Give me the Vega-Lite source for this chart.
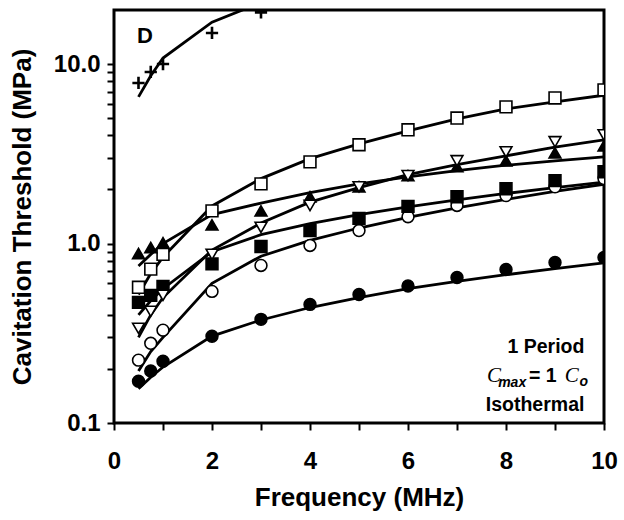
{
  "$schema": "https://vega.github.io/schema/vega-lite/v6.json",
  "autosize": "none",
  "padding": {"left": 114, "top": 10, "right": 20, "bottom": 97},
  "width": 490,
  "height": 413,
  "background": "white",
  "config": {
    "view": {"stroke": "black", "strokeWidth": 3},
    "font": "Liberation Sans"
  },
  "datasets": {
    "pts": [
      {"series": "fc", "f": 0.5, "v": 0.171}, {"series": "fc", "f": 0.75, "v": 0.195}, {"series": "fc", "f": 1, "v": 0.221}, {"series": "fc", "f": 2, "v": 0.304}, {"series": "fc", "f": 3, "v": 0.378}, {"series": "fc", "f": 4, "v": 0.458}, {"series": "fc", "f": 5, "v": 0.52}, {"series": "fc", "f": 6, "v": 0.58}, {"series": "fc", "f": 7, "v": 0.647}, {"series": "fc", "f": 8, "v": 0.717}, {"series": "fc", "f": 9, "v": 0.784}, {"series": "fc", "f": 10, "v": 0.836},
      {"series": "oc", "f": 0.5, "v": 0.224}, {"series": "oc", "f": 0.75, "v": 0.278}, {"series": "oc", "f": 1, "v": 0.329}, {"series": "oc", "f": 2, "v": 0.541}, {"series": "oc", "f": 3, "v": 0.755}, {"series": "oc", "f": 4, "v": 0.975}, {"series": "oc", "f": 5, "v": 1.18}, {"series": "oc", "f": 6, "v": 1.41}, {"series": "oc", "f": 7, "v": 1.63}, {"series": "oc", "f": 8, "v": 1.85}, {"series": "oc", "f": 9, "v": 2.07}, {"series": "oc", "f": 10, "v": 2.3},
      {"series": "fs", "f": 0.5, "v": 0.47}, {"series": "fs", "f": 0.75, "v": 0.514}, {"series": "fs", "f": 1, "v": 0.577}, {"series": "fs", "f": 2, "v": 0.77}, {"series": "fs", "f": 3, "v": 0.963}, {"series": "fs", "f": 4, "v": 1.18}, {"series": "fs", "f": 5, "v": 1.38}, {"series": "fs", "f": 6, "v": 1.61}, {"series": "fs", "f": 7, "v": 1.82}, {"series": "fs", "f": 8, "v": 2.02}, {"series": "fs", "f": 9, "v": 2.24}, {"series": "fs", "f": 10, "v": 2.51},
      {"series": "os", "f": 0.5, "v": 0.57}, {"series": "os", "f": 0.75, "v": 0.72}, {"series": "os", "f": 1, "v": 0.87}, {"series": "os", "f": 2, "v": 1.52}, {"series": "os", "f": 3, "v": 2.15}, {"series": "os", "f": 4, "v": 2.85}, {"series": "os", "f": 5, "v": 3.55}, {"series": "os", "f": 6, "v": 4.3}, {"series": "os", "f": 7, "v": 5.0}, {"series": "os", "f": 8, "v": 5.77}, {"series": "os", "f": 9, "v": 6.47}, {"series": "os", "f": 10, "v": 7.17},
      {"series": "ft", "f": 0.5, "v": 0.88}, {"series": "ft", "f": 0.75, "v": 0.95}, {"series": "ft", "f": 1, "v": 1.01}, {"series": "ft", "f": 2, "v": 1.27}, {"series": "ft", "f": 3, "v": 1.52}, {"series": "ft", "f": 4, "v": 1.82}, {"series": "ft", "f": 5, "v": 2.07}, {"series": "ft", "f": 6, "v": 2.39}, {"series": "ft", "f": 7, "v": 2.68}, {"series": "ft", "f": 8, "v": 2.89}, {"series": "ft", "f": 9, "v": 3.2}, {"series": "ft", "f": 10, "v": 3.5},
      {"series": "ot", "f": 0.5, "v": 0.337}, {"series": "ot", "f": 0.75, "v": 0.419}, {"series": "ot", "f": 1, "v": 0.514}, {"series": "ot", "f": 2, "v": 0.87}, {"series": "ot", "f": 3, "v": 1.23}, {"series": "ot", "f": 4, "v": 1.63}, {"series": "ot", "f": 5, "v": 2.07}, {"series": "ot", "f": 6, "v": 2.39}, {"series": "ot", "f": 7, "v": 2.89}, {"series": "ot", "f": 8, "v": 3.24}, {"series": "ot", "f": 9, "v": 3.69}, {"series": "ot", "f": 10, "v": 4.03},
      {"series": "pl", "f": 0.5, "v": 7.84}, {"series": "pl", "f": 0.75, "v": 9.03}, {"series": "pl", "f": 1, "v": 10.0}, {"series": "pl", "f": 2, "v": 14.9}, {"series": "pl", "f": 3, "v": 19.4}
    ],
    "fit": [
      {"series": "fc", "f": 0.5, "v": 0.155}, {"series": "fc", "f": 0.75, "v": 0.18}, {"series": "fc", "f": 1, "v": 0.205}, {"series": "fc", "f": 2, "v": 0.305}, {"series": "fc", "f": 3, "v": 0.375}, {"series": "fc", "f": 4, "v": 0.44}, {"series": "fc", "f": 5, "v": 0.5}, {"series": "fc", "f": 6, "v": 0.56}, {"series": "fc", "f": 7, "v": 0.615}, {"series": "fc", "f": 8, "v": 0.67}, {"series": "fc", "f": 9, "v": 0.725}, {"series": "fc", "f": 10, "v": 0.78},
      {"series": "oc", "f": 0.5, "v": 0.195}, {"series": "oc", "f": 0.75, "v": 0.25}, {"series": "oc", "f": 1, "v": 0.3}, {"series": "oc", "f": 2, "v": 0.6}, {"series": "oc", "f": 3, "v": 0.85}, {"series": "oc", "f": 4, "v": 1.04}, {"series": "oc", "f": 5, "v": 1.22}, {"series": "oc", "f": 6, "v": 1.4}, {"series": "oc", "f": 7, "v": 1.58}, {"series": "oc", "f": 8, "v": 1.76}, {"series": "oc", "f": 9, "v": 1.95}, {"series": "oc", "f": 10, "v": 2.14},
      {"series": "fs", "f": 0.5, "v": 0.4}, {"series": "fs", "f": 0.75, "v": 0.48}, {"series": "fs", "f": 1, "v": 0.56}, {"series": "fs", "f": 2, "v": 0.9}, {"series": "fs", "f": 3, "v": 1.12}, {"series": "fs", "f": 4, "v": 1.29}, {"series": "fs", "f": 5, "v": 1.45}, {"series": "fs", "f": 6, "v": 1.6}, {"series": "fs", "f": 7, "v": 1.75}, {"series": "fs", "f": 8, "v": 1.9}, {"series": "fs", "f": 9, "v": 2.05}, {"series": "fs", "f": 10, "v": 2.2},
      {"series": "os", "f": 0.5, "v": 0.52}, {"series": "os", "f": 0.75, "v": 0.68}, {"series": "os", "f": 1, "v": 0.84}, {"series": "os", "f": 2, "v": 1.62}, {"series": "os", "f": 3, "v": 2.3}, {"series": "os", "f": 4, "v": 2.97}, {"series": "os", "f": 5, "v": 3.59}, {"series": "os", "f": 6, "v": 4.24}, {"series": "os", "f": 7, "v": 4.95}, {"series": "os", "f": 8, "v": 5.62}, {"series": "os", "f": 9, "v": 6.15}, {"series": "os", "f": 10, "v": 6.7},
      {"series": "ft", "f": 0.5, "v": 0.75}, {"series": "ft", "f": 0.75, "v": 0.87}, {"series": "ft", "f": 1, "v": 1.0}, {"series": "ft", "f": 2, "v": 1.45}, {"series": "ft", "f": 3, "v": 1.68}, {"series": "ft", "f": 4, "v": 1.92}, {"series": "ft", "f": 5, "v": 2.15}, {"series": "ft", "f": 6, "v": 2.35}, {"series": "ft", "f": 7, "v": 2.55}, {"series": "ft", "f": 8, "v": 2.73}, {"series": "ft", "f": 9, "v": 2.89}, {"series": "ft", "f": 10, "v": 3.04},
      {"series": "ot", "f": 0.5, "v": 0.3}, {"series": "ot", "f": 0.75, "v": 0.4}, {"series": "ot", "f": 1, "v": 0.5}, {"series": "ot", "f": 2, "v": 0.92}, {"series": "ot", "f": 3, "v": 1.3}, {"series": "ot", "f": 4, "v": 1.7}, {"series": "ot", "f": 5, "v": 2.05}, {"series": "ot", "f": 6, "v": 2.42}, {"series": "ot", "f": 7, "v": 2.75}, {"series": "ot", "f": 8, "v": 3.08}, {"series": "ot", "f": 9, "v": 3.44}, {"series": "ot", "f": 10, "v": 3.78},
      {"series": "pl", "f": 0.5, "v": 6.56}, {"series": "pl", "f": 0.75, "v": 8.6}, {"series": "pl", "f": 1, "v": 10.8}, {"series": "pl", "f": 2, "v": 17.1}, {"series": "pl", "f": 3, "v": 22}
    ]
  },
  "encoding": {
    "x": {
      "field": "f", "type": "quantitative",
      "scale": {"domain": [0, 10], "nice": false, "zero": false},
      "axis": {
        "title": "Frequency (MHz)",
        "values": [0, 1, 2, 3, 4, 5, 6, 7, 8, 9, 10],
        "labelExpr": "datum.value % 2 == 0 ? datum.label : ''",
        "grid": false,
        "domain": false,
        "tickColor": "black", "tickWidth": 2, "tickSize": 7,
        "labelFont": "Liberation Sans", "labelFontWeight": "bold", "labelFontSize": 24, "labelColor": "black",
        "labelPadding": 19, "labelFlush": false,
        "titleFont": "Liberation Sans", "titleFontWeight": "bold", "titleFontSize": 26, "titleColor": "black",
        "titlePadding": 11
      }
    },
    "y": {
      "field": "v", "type": "quantitative",
      "scale": {"type": "log", "domain": [0.1, 20], "nice": false},
      "axis": {
        "title": "Cavitation Threshold (MPa)",
        "values": [0.1, 0.2, 0.3, 0.4, 0.5, 0.6, 0.7, 0.8, 0.9, 1, 2, 3, 4, 5, 6, 7, 8, 9, 10],
        "labelExpr": "(datum.value == 0.1 || datum.value == 1 || datum.value == 10) ? format(datum.value, '.1f') : ''",
        "grid": false,
        "domain": false,
        "tickColor": "black", "tickWidth": 2, "tickSize": 7,
        "labelFont": "Liberation Sans", "labelFontWeight": "bold", "labelFontSize": 24, "labelColor": "black",
        "labelPadding": 7, "labelFlush": false,
        "titleFont": "Liberation Sans", "titleFontWeight": "bold", "titleFontSize": 26, "titleColor": "black",
        "titlePadding": 18
      }
    }
  },
  "layer": [
    {
      "data": {"name": "fit"},
      "mark": {"type": "line", "color": "black", "strokeWidth": 2.8, "clip": true},
      "encoding": {"detail": {"field": "series"}}
    },
    {
      "data": {"name": "pts"},
      "transform": [{"filter": "datum.series != 'pl'"}],
      "mark": {"type": "point", "stroke": "black", "strokeWidth": 1.6, "opacity": 1, "clip": true},
      "encoding": {
        "shape": {"field": "series", "type": "nominal", "legend": null,
          "scale": {"domain": ["fc", "oc", "fs", "os", "ft", "ot"], "range": ["circle", "circle", "square", "square", "triangle-up", "triangle-down"]}},
        "fill": {"field": "series", "type": "nominal", "legend": null,
          "scale": {"domain": ["fc", "oc", "fs", "os", "ft", "ot"], "range": ["black", "white", "black", "white", "black", "white"]}},
        "size": {"field": "series", "type": "nominal", "legend": null,
          "scale": {"domain": ["fc", "oc", "fs", "os", "ft", "ot"], "range": [140, 140, 100, 100, 160, 160]}}
      }
    },
    {
      "data": {"name": "pts"},
      "transform": [{"filter": "datum.series == 'pl'"}],
      "mark": {"type": "point", "shape": "M-1,0H1M0,-1V1", "stroke": "black", "strokeWidth": 2.6, "fill": null, "opacity": 1, "size": 150, "clip": true},
      "encoding": {}
    },
    {
      "data": {"values": [{"label": "D", "f": 0.63, "v": 14.3}]},
      "mark": {"type": "text", "font": "Liberation Sans", "fontWeight": "bold", "fontSize": 22, "align": "center", "baseline": "middle", "color": "black"},
      "encoding": {"text": {"field": "label"}}
    },
    {
      "data": {"values": [{"label": "1 Period", "f": 9.6, "v": 0.265}, {"label": "Isothermal", "f": 9.6, "v": 0.126}]},
      "mark": {"type": "text", "font": "Liberation Sans", "fontWeight": "bold", "fontSize": 19.5, "align": "right", "baseline": "middle", "color": "black"},
      "encoding": {"text": {"field": "label"}}
    },
    {
      "data": {"values": [{"label": "= 1", "f": 8.47, "v": 0.183}]},
      "mark": {"type": "text", "font": "Liberation Sans", "fontWeight": "bold", "fontSize": 19.5, "align": "left", "baseline": "middle", "color": "black"},
      "encoding": {"text": {"field": "label"}}
    },
    {
      "data": {"values": [{"label": "C", "f": 7.61, "v": 0.183}, {"label": "C", "f": 9.2, "v": 0.183}]},
      "mark": {"type": "text", "font": "Liberation Serif", "fontStyle": "italic", "fontSize": 21, "align": "left", "baseline": "middle", "color": "black"},
      "encoding": {"text": {"field": "label"}}
    },
    {
      "data": {"values": [{"label": "max", "f": 7.84, "v": 0.166}, {"label": "o", "f": 9.5, "v": 0.169}]},
      "mark": {"type": "text", "font": "Liberation Sans", "fontStyle": "italic", "fontWeight": "bold", "fontSize": 14, "align": "left", "baseline": "middle", "color": "black"},
      "encoding": {"text": {"field": "label"}}
    }
  ]
}
